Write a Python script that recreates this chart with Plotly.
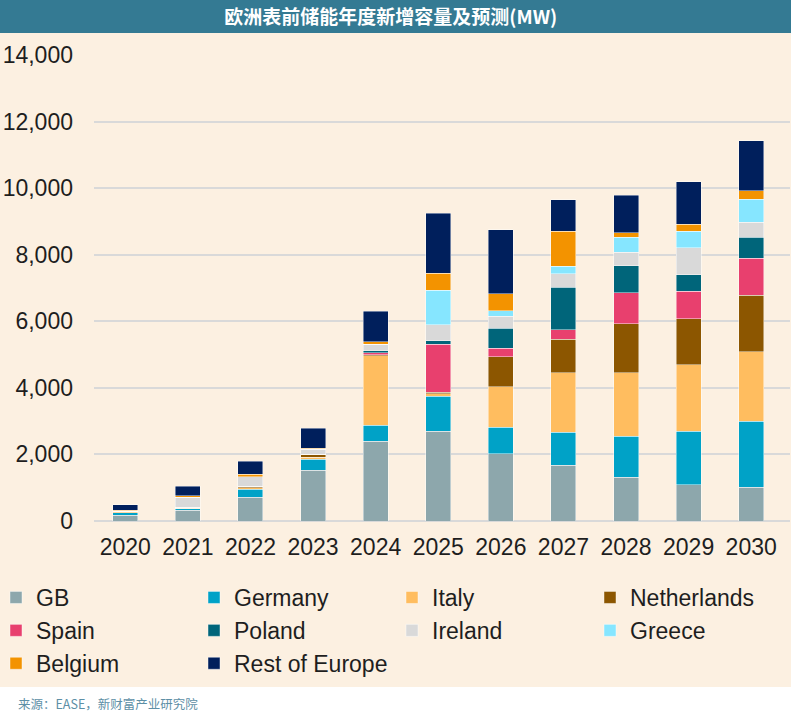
import plotly.graph_objects as go

years = ["2020", "2021", "2022", "2023", "2024", "2025", "2026", "2027", "2028", "2029", "2030"]

gb          = [180, 320, 710, 1530, 2390, 2690, 2020, 1680, 1310, 1090, 1010]
germany     = [70, 50, 250, 330, 480, 1060, 800, 980, 1230, 1600, 1980]
italy       = [30, 10, 40, 60, 2100, 70, 1210, 1800, 1910, 2000, 2100]
netherlands = [20, 30, 50, 90, 20, 50, 910, 1000, 1480, 1390, 1690]
spain       = [0, 0, 0, 0, 60, 1440, 250, 280, 930, 820, 1120]
poland      = [0, 0, 0, 0, 60, 110, 600, 1290, 810, 500, 620]
ireland     = [0, 300, 280, 150, 200, 480, 360, 400, 400, 810, 460]
greece      = [0, 0, 0, 0, 0, 1040, 170, 230, 450, 500, 690]
belgium     = [20, 50, 70, 30, 70, 510, 500, 1050, 140, 200, 250]
rest        = [170, 290, 400, 600, 920, 1790, 1930, 940, 1130, 1280, 1510]

series_names = ["GB", "Germany", "Italy", "Netherlands", "Spain", "Poland",
                "Ireland", "Greece", "Belgium", "Rest of Europe"]
series_values = [gb, germany, italy, netherlands, spain, poland,
                 ireland, greece, belgium, rest]
series_colors = ["#8DA7AC", "#00A2C7", "#FFBD5F", "#8C5600", "#E8406E",
                 "#00657A", "#D9D9D9", "#86E6FF", "#F39300", "#001F5C"]

title_text = "欧洲表前储能年度新增容量及预测(MW)"
source_text = "来源：EASE，新财富产业研究院"

W, H = 791, 718
ML, MR, MT, MB = 94, 1, 55, 197
PW = W - ML - MR
PH = H - MT - MB

def px_x(px):
    return (px - ML) / PW

def px_y(py):
    return (H - MB - py) / PH

fig = go.Figure()
for name, vals, col in zip(series_names, series_values, series_colors):
    fig.add_trace(go.Bar(
        x=years, y=vals, name=name,
        marker=dict(color=col, line=dict(color="rgba(255,255,255,0.55)", width=0.8)),
    ))

base_font = "Liberation Sans, Arial, sans-serif"

fig.update_layout(
    width=W, height=H,
    margin=dict(l=ML, r=MR, t=MT, b=MB, pad=0, autoexpand=False),
    barmode="stack",
    bargap=0.6,
    paper_bgcolor="#FCF0E1",
    plot_bgcolor="rgba(0,0,0,0)",
    font=dict(family=base_font, color="#1E1E1E"),
    showlegend=True,
    legend=dict(
        orientation="h", traceorder="normal",
        x=px_x(-4), y=px_y(576), xanchor="left", yanchor="top",
        entrywidth=153, entrywidthmode="pixels",
        font=dict(size=23, family=base_font, color="#1E1E1E"),
        bgcolor="rgba(0,0,0,0)", itemclick=False,
    ),
    title=dict(
        text="<b>" + title_text + "</b>",
        x=0.494, xref="container", xanchor="center",
        y=1 - 17 / H, yref="container", yanchor="middle",
        font=dict(size=19, color="#FFFFFF", family="Noto Sans CJK SC"),
    ),
    xaxis=dict(
        type="category", range=[-0.5, 10.62],
        showgrid=False, showline=False, zeroline=False,
        ticks="", tickfont=dict(size=23, family=base_font, color="#1E1E1E"),
        ticklabelstandoff=10,
    ),
    yaxis=dict(
        range=[0, 14000], dtick=2000, tickformat=",d",
        showgrid=True, gridcolor="#D9D9D9", gridwidth=1.5,
        zeroline=True, zerolinecolor="#D9D9D9", zerolinewidth=1.5,
        showline=False, ticks="",
        tickfont=dict(size=23, family=base_font, color="#1E1E1E"),
        ticklabelstandoff=20,
    ),
    shapes=[
        dict(type="rect", xref="paper", yref="paper", layer="below",
             x0=-1, x1=2, y0=px_y(-5), y1=px_y(33),
             fillcolor="#347A93", line=dict(width=0)),
        dict(type="rect", xref="paper", yref="paper", layer="below",
             x0=-1, x1=2, y0=px_y(687), y1=px_y(H + 5),
             fillcolor="#FFFFFF", line=dict(width=0)),
    ],
    annotations=[
        dict(text=source_text, xref="paper", yref="paper",
             x=px_x(16), y=px_y(703), xanchor="left", yanchor="middle",
             showarrow=False,
             font=dict(size=12.5, color="#5D8FA6", family="Noto Sans CJK SC")),
    ],
)

fig.write_html(
    "out.html",
    config={"displayModeBar": False},
    post_script="document.body.style.margin='0';document.body.style.padding='0';document.body.style.overflow='hidden';",
)
